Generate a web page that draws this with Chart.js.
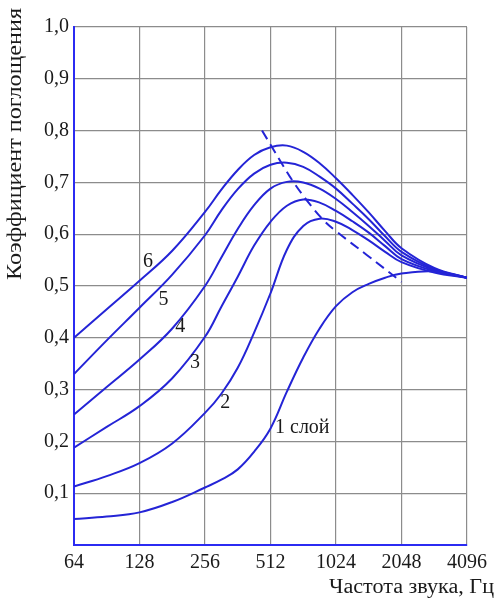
<!DOCTYPE html>
<html>
<head>
<meta charset="utf-8">
<script src="https://cdn.jsdelivr.net/npm/chart.js@4.4.1/dist/chart.umd.min.js"></script>
<style>
  html, body { margin: 0; padding: 0; background: #fff; }
</style>
</head>
<body>
<canvas id="chart" width="500" height="601"></canvas>
<script>
// frequency grid, Hz (half octaves, quarter octaves in the middle)
const freqs = [64, 90.5, 128, 181, 256, 304.4, 362, 430.5, 512, 608.9, 724.1, 861.1, 1024, 1217.9, 1448.2, 1722.2, 2048, 2896.3, 4096];
const xTicks = [64, 128, 256, 512, 1024, 2048, 4096];

// absorption coefficient by number of layers
const layer1 = [0.050, 0.055, 0.063, 0.083, 0.111, 0.126, 0.146, 0.180, 0.225, 0.296, 0.362, 0.418, 0.461, 0.488, 0.504, 0.516, 0.524, 0.528, 0.516];
const layer2 = [0.113, 0.133, 0.158, 0.196, 0.255, 0.292, 0.342, 0.410, 0.486, 0.570, 0.616, 0.630, 0.624, 0.608, 0.588, 0.566, 0.546, 0.526, 0.516];
const layer3 = [0.188, 0.228, 0.268, 0.322, 0.402, 0.460, 0.518, 0.578, 0.624, 0.655, 0.667, 0.661, 0.645, 0.625, 0.603, 0.577, 0.552, 0.529, 0.516];
const layer4 = [0.252, 0.305, 0.358, 0.418, 0.500, 0.555, 0.610, 0.656, 0.688, 0.701, 0.700, 0.688, 0.668, 0.643, 0.616, 0.587, 0.559, 0.531, 0.516];
const layer5 = [0.330, 0.395, 0.458, 0.522, 0.598, 0.646, 0.687, 0.717, 0.734, 0.738, 0.730, 0.711, 0.688, 0.659, 0.629, 0.596, 0.566, 0.533, 0.516];
const layer6 = [0.400, 0.455, 0.510, 0.568, 0.643, 0.686, 0.724, 0.753, 0.768, 0.771, 0.759, 0.737, 0.708, 0.676, 0.642, 0.606, 0.573, 0.535, 0.516];

// dashed line through the maxima
const peakFreqs = [468, 519, 576, 652, 750, 898, 1031, 1418, 2048];
const peakVals = [0.800, 0.769, 0.737, 0.701, 0.666, 0.627, 0.605, 0.560, 0.508];

const curveNames = ['1 слой', '2', '3', '4', '5', '6'];
const nameFreqs = [537, 317, 230, 197, 165, 140];
const nameVals = [0.226, 0.274, 0.351, 0.421, 0.473, 0.547];

const lineBlue = '#2424d6';
const axisBlue = '#2b2bf2';
const gridGray = '#8c8c8c';
const serif = '"Liberation Serif", "DejaVu Serif", serif';

const layers = [layer1, layer2, layer3, layer4, layer5, layer6];
const datasets = layers.map((vals, i) => ({
    label: curveNames[i],
    data: freqs.map((f, j) => ({ x: f, y: vals[j] })),
    borderColor: lineBlue,
    borderWidth: 2,
    pointRadius: 0,
    fill: false,
    tension: 0.4
}));
datasets.push({
    label: 'max',
    data: peakFreqs.map((f, j) => ({ x: f, y: peakVals[j] })),
    borderColor: lineBlue,
    borderWidth: 2,
    borderDash: [10, 6],
    pointRadius: 0,
    fill: false,
    tension: 0.4
});

// draws text squeezed/stretched to a given width (the original type is wide)
function wideText(ctx, text, x, y, width) {
    const k = width / ctx.measureText(text).width;
    ctx.save();
    ctx.translate(x, y);
    ctx.scale(k, 1);
    ctx.fillText(text, 0, 0);
    ctx.restore();
}

// curve numbers and axis titles
const textPlugin = {
    id: 'texts',
    afterDatasetsDraw(chart) {
        const { ctx, scales: { x, y } } = chart;
        ctx.save();
        ctx.fillStyle = '#1a1a1a';
        ctx.font = '20px ' + serif;
        ctx.textBaseline = 'middle';
        curveNames.forEach((name, i) => {
            ctx.textAlign = i === 0 ? 'left' : 'center';
            ctx.fillText(name, x.getPixelForValue(nameFreqs[i]), y.getPixelForValue(nameVals[i]));
        });

        ctx.textAlign = 'right';
        wideText(ctx, 'Частота звука, Гц', 494, 588, 165);

        ctx.translate(16, 144);
        ctx.rotate(-Math.PI / 2);
        ctx.textAlign = 'center';
        wideText(ctx, 'Коэффициент поглощения', 0, 0, 272);
        ctx.restore();
    }
};

new Chart(document.getElementById('chart'), {
    type: 'line',
    data: { datasets },
    options: {
        responsive: false,
        animation: false,
        layout: { padding: { top: 27, right: 33, bottom: 0, left: 0 } },
        plugins: {
            legend: { display: false },
            tooltip: { enabled: false }
        },
        scales: {
            x: {
                type: 'logarithmic',
                min: 64,
                max: 4096,
                afterBuildTicks: s => { s.ticks = xTicks.map(v => ({ value: v })); },
                afterFit: s => { s.height = 56; },
                ticks: {
                    autoSkip: false,
                    maxRotation: 0,
                    padding: 6,
                    color: '#1a1a1a',
                    font: { family: serif, size: 20 },
                    callback: v => String(v)
                },
                grid: { color: gridGray, lineWidth: 1.2, drawTicks: false },
                border: { color: axisBlue, width: 2 }
            },
            y: {
                min: 0,
                max: 1,
                afterFit: s => { s.width = 74; },
                ticks: {
                    stepSize: 0.1,
                    padding: 5,
                    color: '#1a1a1a',
                    font: { family: serif, size: 20 },
                    callback: v => v === 0 ? '' : v.toFixed(1).replace('.', ',')
                },
                grid: { color: gridGray, lineWidth: 1.2, drawTicks: false },
                border: { color: axisBlue, width: 2 }
            }
        }
    },
    plugins: [textPlugin]
});
</script>
</body>
</html>
